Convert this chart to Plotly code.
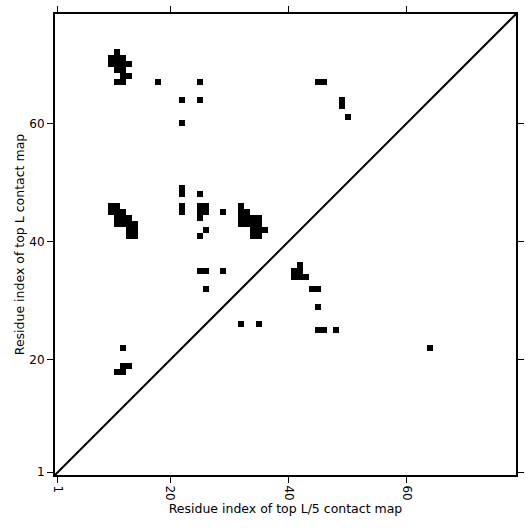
import plotly.graph_objects as go

L = 78
# contact cells: (residue i on x, residue j on y)
contact_x = [11, 10, 11, 12, 10, 11, 12, 13, 11, 12, 12, 13, 11, 12,
             18, 25, 22, 25, 22, 45, 46, 49, 49, 50,
             22, 22, 25, 22, 22, 25, 26, 25, 26, 25, 29, 26, 25,
             10, 11, 10, 11, 12, 11, 12, 13, 11, 12, 13, 14, 13, 14, 13, 14,
             32, 32, 33, 32, 33, 34, 35, 32, 33, 34, 35, 34, 35, 36, 34, 35,
             25, 26, 29, 26, 42, 41, 42, 41, 42, 43, 44, 45, 45,
             32, 35, 45, 46, 48, 12, 12, 13, 11, 12, 64]
contact_y = [72, 71, 71, 71, 70, 70, 70, 70, 69, 69, 68, 68, 67, 67,
             67, 67, 64, 64, 60, 67, 67, 64, 63, 61,
             49, 48, 48, 46, 45, 46, 46, 45, 45, 44, 45, 42, 41,
             46, 46, 45, 45, 45, 44, 44, 44, 43, 43, 43, 43, 42, 42, 41, 41,
             46, 45, 45, 44, 44, 44, 44, 43, 43, 43, 43, 42, 42, 42, 41, 41,
             35, 35, 35, 32, 36, 35, 35, 34, 34, 34, 32, 32, 29,
             26, 26, 25, 25, 25, 22, 19, 19, 18, 18, 22]
tick_vals = [1, 20, 40, 60]

idx = list(range(1, L + 1))
z = [[None] * L for _ in range(L)]
for cx, cy in zip(contact_x, contact_y):
    z[cy - 1][cx - 1] = 1

fig = go.Figure()
fig.add_trace(go.Heatmap(x=idx, y=idx, z=z, colorscale=[[0, "black"], [1, "black"]],
                         showscale=False, hoverinfo="skip"))
fig.add_trace(go.Scatter(x=[0.5, L + 0.5], y=[0.5, L + 0.5], mode="lines",
                         line=dict(color="black", width=2), showlegend=False))

axis_common = dict(range=[0.5, L + 0.5], tickvals=tick_vals, ticks="outside", ticklen=6,
                   tickwidth=1, tickcolor="black", showline=True, linecolor="black",
                   linewidth=2, mirror="ticks", showgrid=False, zeroline=False,
                   automargin=False,
                   tickfont=dict(family="DejaVu Sans", size=12, color="black"))
fig.update_xaxes(**axis_common, tickangle=90,
                 title=dict(text="Residue index of top L/5 contact map",
                            font=dict(family="DejaVu Sans", size=12.5, color="black"),
                            standoff=4))
fig.update_yaxes(**axis_common,
                 title=dict(text="Residue index of top L contact map",
                            font=dict(family="DejaVu Sans", size=12.5, color="black"),
                            standoff=2))
fig.update_layout(width=531, height=531, margin=dict(l=55, r=15, t=14, b=56),
                  plot_bgcolor="white", paper_bgcolor="white", showlegend=False)
fig.write_html("out.html", config={"displayModeBar": False},
               post_script="document.body.style.margin='0';document.body.style.overflow='hidden';")
